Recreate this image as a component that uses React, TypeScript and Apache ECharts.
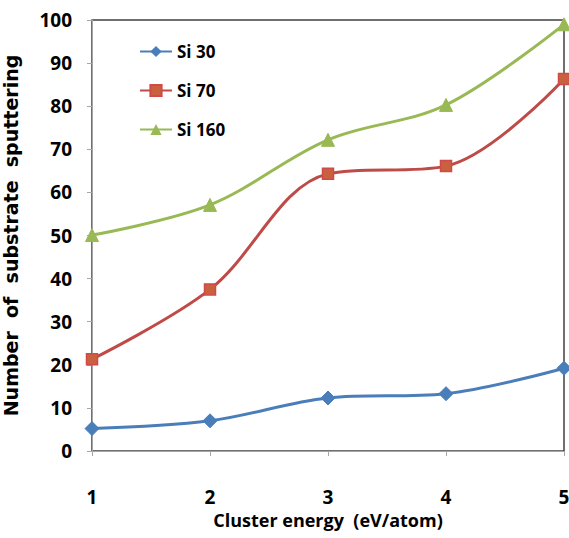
import React, { useEffect, useRef } from "react";
import * as echarts from "echarts";

const energies = [1, 2, 3, 4, 5];
const si30 = [5.2, 7, 12.3, 13.3, 19.2];
const si70 = [21.3, 37.5, 64.3, 66.1, 86.3];
const si160 = [50.1, 57.1, 72.2, 80.3, 99];
const seriesNames = ["Si 30", "Si 70", "Si 160"];

const font = "'Open Sans', 'Noto Sans', sans-serif";

export default function App() {
  const ref = useRef<HTMLDivElement>(null);
  useEffect(() => {
    if (!ref.current) return;
    const chart = echarts.init(ref.current, null, { renderer: "svg" });
    const pair = (ys: number[]) => energies.map((x, i) => [x, ys[i]]);
    chart.setOption({
      animation: false,
      backgroundColor: "#ffffff",
      grid: {
        left: 92,
        right: 5,
        top: 20,
        bottom: 87,
        show: true,
        borderColor: "#404040",
        borderWidth: 1.5,
        containLabel: false,
        outerBoundsMode: "none",
      },
      legend: {
        orient: "vertical",
        left: 134,
        top: 38,
        itemGap: 22,
        itemWidth: 32,
        itemHeight: 14,
        data: seriesNames,
        textStyle: { fontFamily: font, fontWeight: "bold", fontSize: 17, color: "#000" },
      },
      xAxis: {
        type: "value",
        min: 1,
        max: 5,
        interval: 1,
        name: "Cluster energy  (eV/atom)",
        nameLocation: "middle",
        nameGap: 60,
        nameTextStyle: { fontFamily: font, fontWeight: "bold", fontSize: 18, color: "#000" },
        axisLine: { show: true, lineStyle: { color: "#a6a6a6", width: 1 } },
        axisTick: { show: true, length: 5, lineStyle: { color: "#a6a6a6" } },
        axisLabel: { fontFamily: font, fontWeight: "bold", fontSize: 19, color: "#000", margin: 36 },
        splitLine: { show: false },
      },
      yAxis: {
        type: "value",
        min: 0,
        max: 100,
        interval: 10,
        name: "Number  of  substrate  sputtering",
        nameLocation: "middle",
        nameGap: 70,
        nameTextStyle: {
          fontFamily: "'DejaVu Sans', sans-serif",
          fontWeight: "bold",
          fontSize: 19,
          lineHeight: 22,
          color: "#000",
        },
        axisLine: { show: true, lineStyle: { color: "#a6a6a6", width: 1 } },
        axisTick: { show: true, length: 5, lineStyle: { color: "#a6a6a6" } },
        axisLabel: { fontFamily: font, fontWeight: "bold", fontSize: 19, color: "#000", margin: 20 },
        splitLine: { show: false },
      },
      series: [
        {
          name: seriesNames[0],
          type: "line",
          smooth: 0.35,
          data: pair(si30),
          symbol: "diamond",
          symbolSize: 14,
          lineStyle: { color: "#4a7ebb", width: 3 },
          itemStyle: { color: "#4a7ebb", borderColor: "#4a7ebb" },
        },
        {
          name: seriesNames[1],
          type: "line",
          smooth: 0.35,
          data: pair(si70),
          symbol: "rect",
          symbolSize: 11,
          lineStyle: { color: "#be4b48", width: 3 },
          itemStyle: { color: "#c9603e", borderColor: "#d04a4a", borderWidth: 1.5 },
        },
        {
          name: seriesNames[2],
          type: "line",
          smooth: 0.35,
          data: pair(si160),
          symbol: "triangle",
          symbolSize: 13,
          lineStyle: { color: "#98b954", width: 3 },
          itemStyle: { color: "#98b954", borderColor: "#98b954" },
        },
      ],
    });
    return () => chart.dispose();
  }, []);
  return (
    <div
      ref={ref}
      style={{ position: "absolute", left: 0, top: 0, width: 569, height: 538 }}
    />
  );
}
